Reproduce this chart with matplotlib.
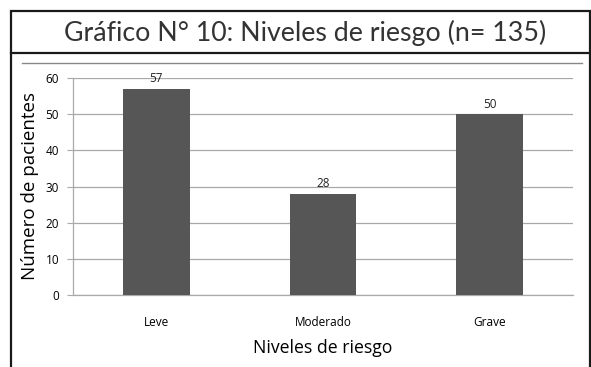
import matplotlib.pyplot as plt
from matplotlib.lines import Line2D
from matplotlib.patches import Rectangle

# Pacientes por nivel de riesgo
niveles = ["Leve", "Moderado", "Grave"]
pacientes = [57, 28, 50]
y_ticks = [0, 10, 20, 30, 40, 50, 60]

titulo = "Gráfico N° 10: Niveles de riesgo (n= 135)"
label_font = "Open Sans"
title_font = "Lato"

fig = plt.figure(figsize=(5.91, 3.67), dpi=100)
W, H = 591, 367


def fx(px):
    return px / W


def fy(py):
    return 1 - py / H


# marco exterior y cabecera del título
fig.add_artist(Rectangle((fx(11), fy(370)), fx(579), fy(11) - fy(370),
                         transform=fig.transFigure, fill=False,
                         edgecolor="#1a1a1a", linewidth=1.6))
fig.add_artist(Line2D([fx(11), fx(590)], [fy(53), fy(53)],
                      transform=fig.transFigure, color="#1a1a1a", linewidth=1.6))
fig.text(fx(305.5), fy(33), titulo, ha="center", va="center",
         fontsize=19.3, family=title_font, color="#333333")

# línea superior del área del gráfico
fig.add_artist(Line2D([fx(22), fx(582)], [fy(63), fy(63)],
                      transform=fig.transFigure, color="#888888", linewidth=1.0))

ax = fig.add_axes([fx(73), fy(295), fx(500), fy(78) - fy(295)])
x = range(len(niveles))
bars = ax.bar(x, pacientes, width=0.4, color="#565656", zorder=3)

for rect, v in zip(bars, pacientes):
    ax.text(rect.get_x() + rect.get_width() / 2, v + 1.0, str(v),
            ha="center", va="bottom", fontsize=8.5, family=label_font,
            color="#222222")

ax.set_xlim(-0.5, len(niveles) - 0.5)
ax.set_ylim(0, 60)
ax.set_yticks(y_ticks)
ax.set_xticks(list(x))
ax.set_xticklabels(niveles, family=label_font, fontsize=8.5)
ax.tick_params(axis="y", labelsize=8.5, length=4, color="#aaaaaa", pad=6)
ax.tick_params(axis="x", length=0, pad=15)
for lbl in ax.get_yticklabels():
    lbl.set_family(label_font)

ax.grid(axis="y", color="#a8a8a8", linewidth=0.9, zorder=0)
ax.set_axisbelow(True)
for side in ["top", "right"]:
    ax.spines[side].set_visible(False)
for side in ["left", "bottom"]:
    ax.spines[side].set_color("#aaaaaa")
    ax.spines[side].set_linewidth(0.9)

ax.set_ylabel("Número de pacientes", family=label_font, fontsize=13.5, labelpad=5)
ax.set_xlabel("Niveles de riesgo", family=label_font, fontsize=12.7, labelpad=7)

fig.savefig("out.png", dpi=100)
